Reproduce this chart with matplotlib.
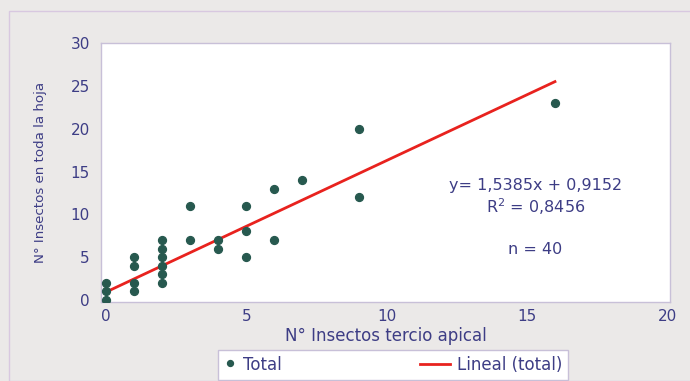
import numpy as np
import matplotlib.pyplot as plt
from matplotlib.patches import Rectangle
from matplotlib.lines import Line2D
from matplotlib.legend_handler import HandlerLine2D

plt.rcParams['font.family'] = ['DejaVu Sans']

# Data (distinct points; n = 40 with repeats)
x_apical = [0, 0, 0, 1, 1, 1, 1, 2, 2, 2, 2, 2, 2, 3, 3, 4, 4, 5, 5, 5, 6, 6, 7, 9, 9, 16]
y_hoja = [2, 1, 0, 5, 4, 2, 1, 7, 6, 5, 4, 3, 2, 11, 7, 7, 6, 11, 8, 5, 13, 7, 14, 20, 12, 23]

# Linear trend as printed on the chart
slope = 1.5385
intercept = 0.9152
x_fit = np.array([0, 16])

text_col = '#3d3d85'
point_col = '#27594f'
line_col = '#e8221e'

fig = plt.figure(figsize=(6.9, 3.81), dpi=100)
fig.patch.set_facecolor('#ebe9e8')
fig.patches.append(Rectangle((9 / 690, 0), 1, 1 - 11 / 381, transform=fig.transFigure,
                             fill=False, edgecolor='#d8c8e0', linewidth=1))

ax = fig.add_axes([101 / 690, 1 - 302 / 381, (670 - 101) / 690, (302 - 43) / 381])
ax.set_facecolor('white')

ax.scatter(x_apical, y_hoja, s=32, color=point_col, zorder=3, label='Total')
ax.plot(x_fit, slope * x_fit + intercept, color=line_col, linewidth=2, zorder=2,
        label='Lineal (total)')

ax.set_xlim(-0.18, 20.1)
ax.set_ylim(-0.25, 30.05)
ax.set_xticks([0, 5, 10, 15, 20])
ax.set_yticks([0, 5, 10, 15, 20, 25, 30])
ax.tick_params(length=0, labelsize=11, labelcolor=text_col)
ax.tick_params(axis='y', pad=8)
ax.tick_params(axis='x', pad=5)

for side, sp in ax.spines.items():
    sp.set_color('#c8c0d8')
    sp.set_linewidth(1)

ax.set_xlabel('N° Insectos tercio apical', fontsize=12, color=text_col, labelpad=2)
ax.set_ylabel('N° Insectos en toda la hoja', fontsize=9.6, color=text_col, labelpad=17)

ax.text(15.3, 13.4, 'y= 1,5385x + 0,9152', fontsize=11.5, color=text_col, ha='center', va='center')
ax.text(15.3, 10.95, 'R$^2$ = 0,8456', fontsize=11.5, color=text_col, ha='center', va='center')
ax.text(15.3, 5.9, 'n = 40', fontsize=11.5, color=text_col, ha='center', va='center')

leg = fig.legend(loc='center left', bbox_to_anchor=(218 / 690, 1 - 365 / 381), ncol=2,
                 frameon=True, fancybox=False, framealpha=1, fontsize=12,
                 markerscale=0.75, handlelength=0.75, columnspacing=9.3,
                 borderpad=0.35, borderaxespad=0, handletextpad=0.42,
                 scatteryoffsets=[0.6],
                 handler_map={Line2D: HandlerLine2D(xpad=-1.0)})
leg.get_frame().set_edgecolor('#c8c0d8')
leg.get_frame().set_linewidth(1)
for t in leg.get_texts():
    t.set_color(text_col)

fig.savefig('out.png', dpi=100, facecolor=fig.get_facecolor())
